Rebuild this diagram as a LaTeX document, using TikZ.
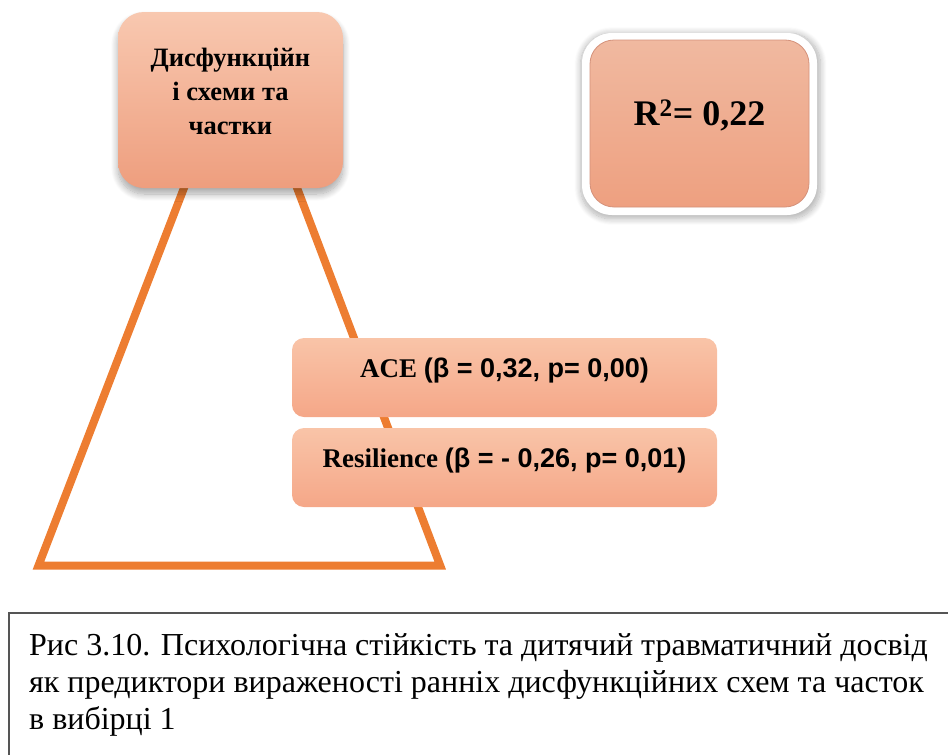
\documentclass[tikz,border=0pt]{standalone}
\usepackage{fontspec}
\setmainfont{Liberation Serif}
\newfontfamily\arialfont{Liberation Sans}
\usetikzlibrary{shadows.blur}

\definecolor{triOrange}{HTML}{ED7D31}
\definecolor{peachTop}{HTML}{F8C8B0}
\definecolor{peachBot}{HTML}{EE9E7E}
\definecolor{rTop}{HTML}{F0B9A0}
\definecolor{rBot}{HTML}{EEA080}
\definecolor{rRim}{HTML}{D4917A}
\definecolor{barTop}{HTML}{F9C4A8}
\definecolor{barBot}{HTML}{F5A788}
\definecolor{frameGray}{HTML}{555555}

\tikzset{
  headbox/.style={draw=none, rounded corners=26pt, top color=peachTop, bottom color=peachBot,
    minimum width=225pt, minimum height=176pt, inner sep=0pt,
    blur shadow={shadow xshift=0pt, shadow yshift=-6pt, shadow blur steps=12, shadow blur radius=7pt, shadow opacity=35}},
  rframe/.style={draw=none, fill=white, rounded corners=30pt,
    minimum width=235pt, minimum height=182pt, inner sep=0pt,
    blur shadow={shadow xshift=1pt, shadow yshift=-2pt, shadow scale=1.02, shadow blur steps=12, shadow blur radius=6pt, shadow opacity=30}},
  rbox/.style={draw=rRim, line width=0.8pt, rounded corners=24pt, top color=rTop, bottom color=rBot,
    minimum width=219pt, minimum height=167pt, inner sep=0pt},
  barbox/.style={draw=none, rounded corners=12pt, top color=barTop, bottom color=barBot,
    minimum width=425pt, minimum height=79pt, inner sep=0pt},
  bartext/.style={font=\fontsize{27}{31}\selectfont\bfseries, inner sep=0pt},
  edge/.style={draw=triOrange, line width=8pt, line join=miter},
}

\begin{document}
\begin{tikzpicture}[x=1pt, y=-1pt]
  \useasboundingbox (0,0) rectangle (948,755);

  % triangle behind the boxes
  \coordinate (apex) at (241,40);
  \coordinate (baseL) at (38.5,565.5);
  \coordinate (baseR) at (440.2,565.5);
  \draw[edge] (apex) -- (baseL) -- (baseR) -- cycle;

  % outcome box
  \node[headbox] (schemes) at (230.5,100) {};
  \node[font=\fontsize{26.5}{34}\selectfont\bfseries, align=center, inner sep=0pt]
    (schemesText) at ([yshift=9pt]schemes.center) {Дисфункційн\\і схеми та\\частки};

  % explained variance
  \node[rframe] (rframe) at (699.5,124) {};
  \node[rbox] (rsq) at (699.5,123.5) {};
  \node[font=\fontsize{36}{40}\selectfont\bfseries, inner sep=0pt]
    (rsqText) at ([yshift=8pt]rsq.center) {R\textsuperscript{2}= 0,22};

  % predictors
  \node[barbox] (ace) at (504.5,377.5) {};
  \node[bartext] (aceText) at ([yshift=7pt]ace.center) {ACE {\arialfont(β = 0,32, p= 0,00)}};
  \node[barbox] (res) at (504.5,467.5) {};
  \node[bartext] (resText) at ([yshift=7pt]res.center) {Resilience {\arialfont(β = - 0,26, p= 0,01)}};

  % caption frame, open to the right and bottom
  \coordinate (capTR) at (949,613);
  \coordinate (capTL) at (9,613);
  \coordinate (capBL) at (9,756);
  \draw[frameGray, line width=2pt] (capTR) -- (capTL) -- (capBL);
  \node[anchor=north west, align=left, inner sep=0pt,
        font=\fontsize{32}{37}\selectfont] (caption) at (29,633)
    {Рис 3.10. Психологічна стійкість та дитячий травматичний досвід\\
     як предиктори вираженості ранніх дисфункційних схем та часток\\
     в вибірці 1};
\end{tikzpicture}
\end{document}
